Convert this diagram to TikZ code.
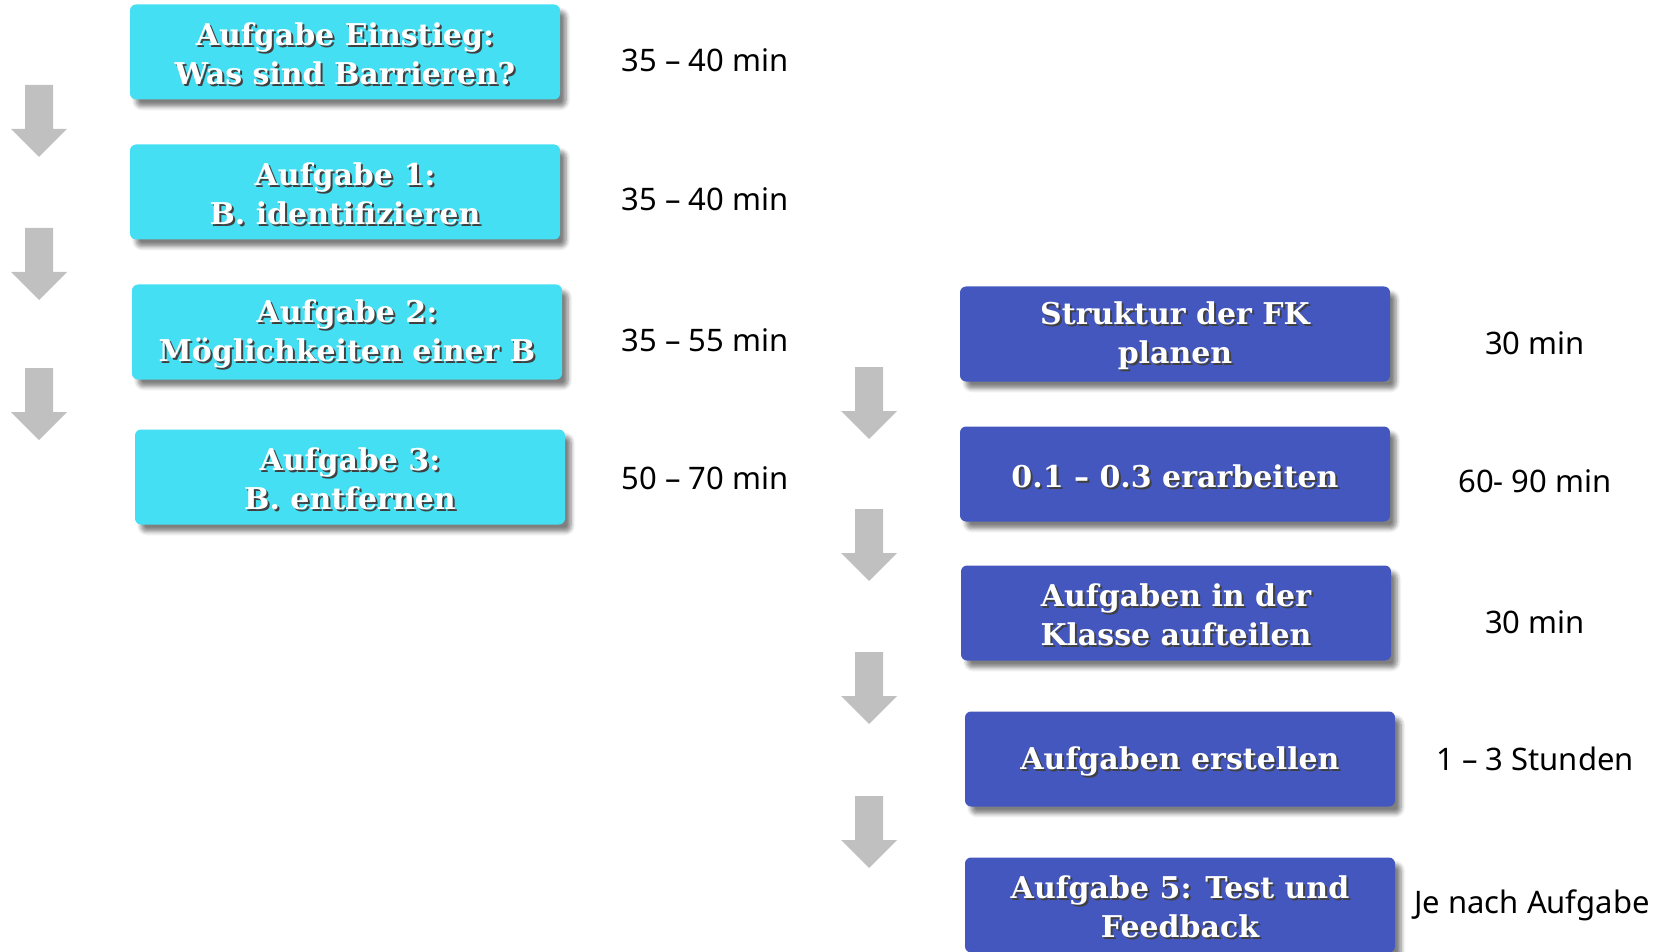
\documentclass[tikz,border=0pt]{standalone}
\usepackage{fontspec}
\setmainfont{Noto Sans}
\newfontfamily\boxfont{DejaVu Serif}
\usetikzlibrary{shadows.blur}

\definecolor{cyanbox}{RGB}{68,223,242}
\definecolor{bluebox}{RGB}{67,87,190}
\definecolor{arrowgray}{RGB}{192,192,192}

% white text with a dark drop shadow
\newcommand\sh[1]{\raisebox{-1.6pt}[\height][\depth]{\makebox[0pt][l]{\hspace{1pt}\raisebox{-1pt}{\color{black!75}#1}}#1}}

\tikzset{
  taskbox/.style={rectangle, rounded corners=3pt, minimum width=215pt, minimum height=47.5pt,
    align=center, text=white, font=\boxfont\bfseries\fontsize{15}{19.5}\selectfont,
    blur shadow={shadow xshift=3pt, shadow yshift=-3.5pt, shadow opacity=50, shadow blur steps=6}},
  einzel/.style={taskbox, fill=cyanbox},
  gruppe/.style={taskbox, fill=bluebox},
  zeit/.style={font=\fontsize{15.5}{18}\selectfont},
  pfeil/.pic={\fill[arrowgray] (-14,0) -- (14,0) -- (14,44) -- (28,44) -- (0,72) -- (-28,44) -- (-14,44) -- cycle;}
}

\begin{document}
\begin{tikzpicture}[x=0.5pt, y=-0.5pt]
	\useasboundingbox (0,0) rectangle (1654,952);
	% left column
	\node[einzel] (einstieg) at (345,52) {\sh{Aufgabe Einstieg:}\\\sh{Was sind Barrieren?}};
	\node[einzel] (auf1) at (345,192) {\sh{Aufgabe 1:}\\\sh{B. identifizieren}};
	\node[einzel] (auf2) at (347,332) {\sh{Aufgabe 2:}\\\sh{Möglichkeiten einer B}};
	\node[einzel] (auf3) at (350,477) {\sh{Aufgabe 3:}\\\sh{B. entfernen}};
	\node[zeit] (zeinstieg) at (705,60) {35 – 40 min};
	\node[zeit] (zauf1) at (705,199) {35 – 40 min};
	\node[zeit] (zauf2) at (705,340) {35 – 55 min};
	\node[zeit] (zauf3) at (705,478) {50 – 70 min};
	\pic at (39,85) {pfeil};
	\pic at (39,228) {pfeil};
	\pic at (39,368) {pfeil};
	% right column
	\node[gruppe] (struktur) at (1175,334) {\sh{Struktur der FK}\\\sh{planen}};
	\node[gruppe] (erarb) at (1175,474) {\sh{0.1 – 0.3 erarbeiten}};
	\node[gruppe] (teilen) at (1176,613) {\sh{Aufgaben in der}\\\sh{Klasse aufteilen}};
	\node[gruppe] (erstellen) at (1180,759) {\sh{Aufgaben erstellen}};
	\node[gruppe] (test) at (1180,905) {\sh{Aufgabe 5: Test und}\\\sh{Feedback}};
	\node[zeit] (zstruktur) at (1535,343) {30 min};
	\node[zeit] (zerarb) at (1535,481) {60- 90 min};
	\node[zeit] (zteilen) at (1535,622) {30 min};
	\node[zeit] (zerstellen) at (1535,759) {1 – 3 Stunden};
	\node[zeit] (ztest) at (1532,905) {Je nach Aufgabe};
	\pic at (869,367) {pfeil};
	\pic at (869,509) {pfeil};
	\pic at (869,652) {pfeil};
	\pic at (869,796) {pfeil};
\end{tikzpicture}
\end{document}
